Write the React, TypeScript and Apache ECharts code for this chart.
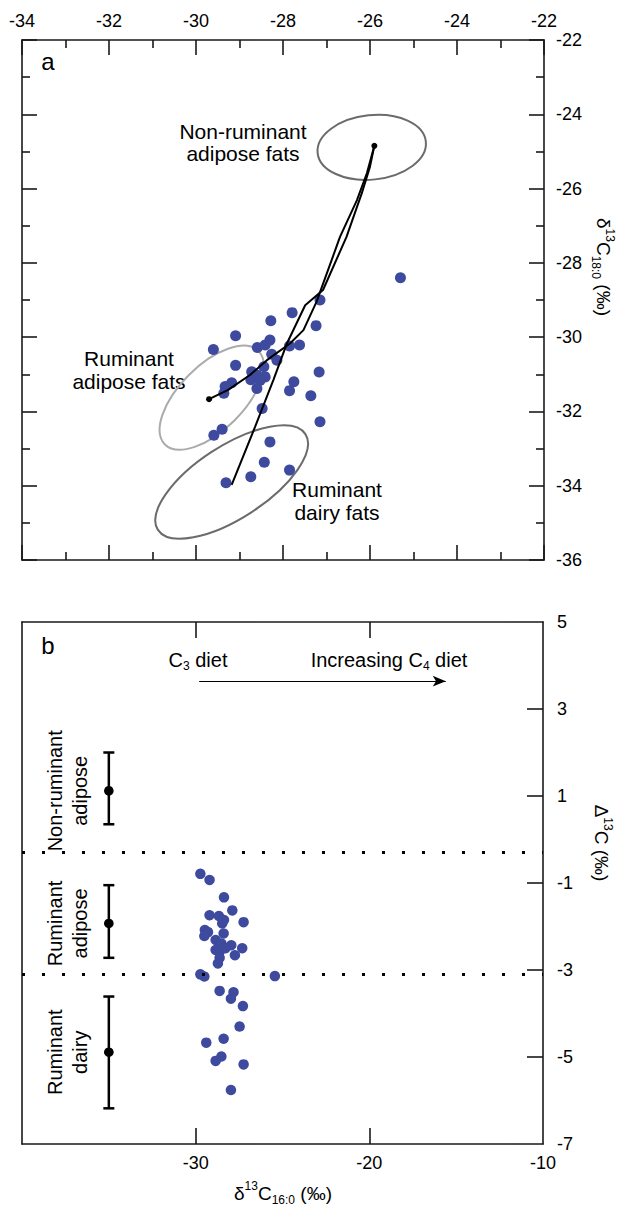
import React, { useEffect, useRef } from 'react';
import * as echarts from 'echarts';

const FONT = '"Liberation Sans", Arial, Helvetica, sans-serif';
const DOT_COLOR = '#3d4a9e';
const INK = '#1a1a1a';

// ---------- Panel a: δ13C16:0 (x) vs δ13C18:0 (y) ----------
const A_X = [
  -27.15, -27.79, -28.28, -29.09, -27.24, -28.3, -28.59, -28.41, -27.85, -27.62,
  -29.6, -28.26, -28.14, -29.09, -28.44, -27.17, -28.72, -28.6, -28.41, -29.18,
  -28.74, -28.53, -27.75, -29.33, -28.6, -27.85, -29.36, -27.36, -28.48, -27.15,
  -29.4, -29.59, -28.3, -28.43, -27.85, -28.74, -29.31, -25.3,
];
const A_Y = [
  -29.0, -29.34, -29.56, -29.96, -29.69, -30.08, -30.28, -30.21, -30.24, -30.21,
  -30.33, -30.46, -30.62, -30.76, -30.8, -30.94, -30.93, -31.02, -31.07, -31.23,
  -31.15, -31.17, -31.2, -31.33, -31.38, -31.44, -31.51, -31.58, -31.92, -32.28,
  -32.48, -32.64, -32.82, -33.37, -33.58, -33.76, -33.92, -28.4,
];

// Reference ellipses (centre, semi-axes in x-axis units, tilt in degrees)
const ELLIPSE_NAMES = ['Non-ruminant adipose fats', 'Ruminant adipose fats', 'Ruminant dairy fats'];
const ELLIPSE_CX = [-25.96, -29.64, -29.18];
const ELLIPSE_CY = [-24.89, -31.63, -33.9];
const ELLIPSE_RX = [1.25, 1.52, 2.02];
const ELLIPSE_RY = [0.74, 0.74, 0.83];
const ELLIPSE_TILT = [6, 45, 33];
const ELLIPSE_STROKES = ['#6b6b6b', '#ababab', '#6b6b6b'];

// Mixing curves
const MIX1_X = [-29.7, -29.26, -28.76, -28.37, -27.84, -27.53, -27.23, -26.88, -26.69, -26.3, -26.07, -25.9];
const MIX1_Y = [-31.67, -31.42, -31.02, -30.62, -30.17, -29.81, -29.05, -27.92, -27.3, -26.31, -25.58, -24.85];
const MIX2_X = [-29.18, -28.64, -28.22, -27.91, -27.49, -27.08, -26.54, -26.19, -26.0, -25.9];
const MIX2_Y = [-33.98, -32.41, -31.15, -30.17, -29.14, -28.73, -27.3, -26.13, -25.41, -24.85];

// Panel a axes
const A_X_MIN = -34, A_X_MAX = -22, A_X_STEP = 2;
const A_Y_MIN = -36, A_Y_MAX = -22, A_Y_STEP = 2;

// ---------- Panel b: δ13C16:0 (x) vs Δ13C (y) ----------
const B_X = [
  -29.73, -29.2, -28.37, -27.89, -29.2, -28.66, -28.37, -27.24, -28.47, -29.47,
  -29.29, -29.5, -28.39, -28.85, -28.52, -27.95, -28.85, -28.62, -28.28, -27.32,
  -27.74, -28.62, -28.72, -29.73, -29.5, -25.44, -28.62, -27.82, -27.97, -27.28,
  -27.47, -28.39, -29.39, -28.52, -28.85, -27.24, -27.97,
];
const B_Y = [
  -0.79, -0.93, -1.33, -1.63, -1.74, -1.76, -1.85, -1.9, -1.93, -2.08,
  -2.13, -2.22, -2.16, -2.31, -2.39, -2.43, -2.54, -2.58, -2.5, -2.5,
  -2.66, -2.72, -2.85, -3.1, -3.15, -3.14, -3.48, -3.51, -3.66, -3.83,
  -4.3, -4.58, -4.67, -4.99, -5.09, -5.17, -5.76,
];

const CATEGORIES = ['Non-ruminant\nadipose', 'Ruminant\nadipose', 'Ruminant\ndairy'];
const REF_X = -35;
const REF_HIGH = [2.0, -1.05, -3.61];
const REF_MID = [1.12, -1.93, -4.89];
const REF_LOW = [0.35, -2.72, -6.18];
const CATEGORY_LABEL_X = -37.4;
const BOUNDARIES = [-0.3, -3.1];

const DIET_ARROW_X = [-29.8, -15.6];
const DIET_ARROW_Y = 3.64;

const B_X_MIN = -40, B_X_MAX = -10, B_X_STEP = 10;
const B_X_LABELS = [-30, -20, -10];
const B_X_TICKS = [-30, -20];
const B_Y_MIN = -7, B_Y_MAX = 5;
const B_Y_LABELS = [-7, -5, -3, -1, 1, 3, 5];
const B_Y_TICKS = [-5, -3, -1, 1, 3];

const lineStyle = { color: INK, width: 1.6 };
const tickLabel = { fontSize: 18, color: '#000', fontFamily: FONT };
const richSS = {
  sup: { fontSize: 12, verticalAlign: 'top', lineHeight: 12, fontFamily: FONT, fill: '#000' },
  sub: { fontSize: 12, verticalAlign: 'bottom', lineHeight: 12, fontFamily: FONT, fill: '#000' },
};

function buildOption() {
  const aPts = A_X.map((x, i) => [x, A_Y[i]]);
  const bPts = B_X.map((x, i) => [x, B_Y[i]]);
  const mix1 = MIX1_X.map((x, i) => [x, MIX1_Y[i]]);
  const mix2 = MIX2_X.map((x, i) => [x, MIX2_Y[i]]);
  const ellipses = ELLIPSE_NAMES.map((n, i) => ({
    name: n,
    value: [ELLIPSE_CX[i], ELLIPSE_CY[i], ELLIPSE_RX[i], ELLIPSE_RY[i], ELLIPSE_TILT[i]],
  }));
  const refs = CATEGORIES.map((c, i) => ({ name: c, value: [REF_X, REF_LOW[i], REF_MID[i], REF_HIGH[i]] }));
  const catLabels = CATEGORIES.map((c, i) => ({ name: c, value: [CATEGORY_LABEL_X, REF_MID[i]] }));

  const boxAxis = (extra: any) => ({
    type: 'value',
    splitLine: { show: false },
    minorSplitLine: { show: false },
    axisLine: { show: true, onZero: false, lineStyle },
    ...extra,
  });

  const aTick = { show: true, inside: true, length: 15, lineStyle };
  const aMinor = { show: true, splitNumber: 2, length: 8, lineStyle };

  const xAxis = [
    boxAxis({ gridIndex: 0, position: 'bottom', min: A_X_MIN, max: A_X_MAX, interval: A_X_STEP,
      axisTick: aTick, minorTick: aMinor, axisLabel: { show: false } }),
    boxAxis({ gridIndex: 0, position: 'top', min: A_X_MIN, max: A_X_MAX, interval: A_X_STEP,
      axisTick: aTick, minorTick: aMinor, axisLabel: { show: true, margin: 10, ...tickLabel } }),
    boxAxis({ gridIndex: 1, position: 'bottom', min: B_X_MIN, max: B_X_MAX, interval: B_X_STEP,
      axisTick: { show: true, inside: true, length: 16, lineStyle, customValues: B_X_TICKS },
      axisLabel: { show: true, margin: 10, customValues: B_X_LABELS, ...tickLabel } }),
    boxAxis({ gridIndex: 1, position: 'top', min: B_X_MIN, max: B_X_MAX, interval: B_X_STEP,
      axisTick: { show: true, inside: true, length: 16, lineStyle, customValues: B_X_TICKS },
      axisLabel: { show: false } }),
  ];
  const yAxis = [
    boxAxis({ gridIndex: 0, position: 'left', min: A_Y_MIN, max: A_Y_MAX, interval: A_Y_STEP,
      axisTick: aTick, minorTick: aMinor, axisLabel: { show: false } }),
    boxAxis({ gridIndex: 0, position: 'right', min: A_Y_MIN, max: A_Y_MAX, interval: A_Y_STEP,
      axisTick: aTick, minorTick: aMinor, axisLabel: { show: true, margin: 12, ...tickLabel } }),
    boxAxis({ gridIndex: 1, position: 'left', min: B_Y_MIN, max: B_Y_MAX,
      axisTick: { show: false }, axisLabel: { show: false } }),
    boxAxis({ gridIndex: 1, position: 'right', min: B_Y_MIN, max: B_Y_MAX,
      axisTick: { show: true, inside: true, length: 16, lineStyle, customValues: B_Y_TICKS },
      axisLabel: { show: true, margin: 14, customValues: B_Y_LABELS, ...tickLabel } }),
  ];

  const series: any[] = [
    {
      type: 'custom', name: 'ellipses', xAxisIndex: 0, yAxisIndex: 0, silent: true,
      encode: { x: 0, y: 1 }, data: ellipses,
      renderItem: (params: any, api: any) => {
        const c = api.coord([api.value(0), api.value(1)]);
        const rx = api.size([api.value(2), 0])[0];
        const ry = api.size([api.value(3), 0])[0];
        return {
          type: 'ellipse', x: c[0], y: c[1], rotation: (api.value(4) * Math.PI) / 180,
          shape: { cx: 0, cy: 0, rx, ry },
          style: { fill: 'none', stroke: ELLIPSE_STROKES[params.dataIndex], lineWidth: 2 },
        };
      },
    },
    {
      type: 'scatter', name: 'samples a', xAxisIndex: 0, yAxisIndex: 0, data: aPts,
      symbolSize: 11, itemStyle: { color: DOT_COLOR, opacity: 1 },
    },
    {
      type: 'line', name: 'mixing adipose', xAxisIndex: 0, yAxisIndex: 0, data: mix1,
      symbol: 'none', lineStyle: { color: '#000', width: 2 }, z: 5,
    },
    {
      type: 'line', name: 'mixing dairy', xAxisIndex: 0, yAxisIndex: 0, data: mix2,
      symbol: 'none', lineStyle: { color: '#000', width: 2 }, z: 5,
    },
    {
      type: 'scatter', name: 'ends', xAxisIndex: 0, yAxisIndex: 0, z: 6,
      data: [mix1[0], mix1[mix1.length - 1]], symbolSize: 6, itemStyle: { color: '#000', opacity: 1 },
    },
    {
      type: 'scatter', name: 'samples b', xAxisIndex: 2, yAxisIndex: 2, data: bPts,
      symbolSize: 10.5, itemStyle: { color: DOT_COLOR, opacity: 1 },
      markLine: {
        silent: true, symbol: 'none', animation: false,
        label: { show: false },
        lineStyle: { color: '#000', width: 3, type: [3, 17] },
        data: BOUNDARIES.map((v) => ({ yAxis: v })),
      },
    },
    {
      type: 'custom', name: 'reference ranges', xAxisIndex: 2, yAxisIndex: 2, silent: true,
      encode: { x: 0, y: [1, 2, 3] }, data: refs, z: 5,
      renderItem: (params: any, api: any) => {
        const x = api.value(0);
        const lo = api.coord([x, api.value(1)]);
        const mid = api.coord([x, api.value(2)]);
        const hi = api.coord([x, api.value(3)]);
        const cap = 5.5;
        const st = { stroke: '#000', lineWidth: 2.5 };
        return {
          type: 'group',
          children: [
            { type: 'line', shape: { x1: hi[0], y1: hi[1], x2: lo[0], y2: lo[1] }, style: st },
            { type: 'line', shape: { x1: hi[0] - cap, y1: hi[1], x2: hi[0] + cap, y2: hi[1] }, style: st },
            { type: 'line', shape: { x1: lo[0] - cap, y1: lo[1], x2: lo[0] + cap, y2: lo[1] }, style: st },
            { type: 'circle', shape: { cx: mid[0], cy: mid[1], r: 4.8 }, style: { fill: '#000' } },
          ],
        };
      },
      markLine: {
        silent: true, animation: false, symbol: ['none', 'arrow'], symbolSize: [8, 13],
        label: { show: false },
        lineStyle: { color: '#000', width: 1.2, type: 'solid' },
        data: [[{ coord: [DIET_ARROW_X[0], DIET_ARROW_Y] }, { coord: [DIET_ARROW_X[1], DIET_ARROW_Y] }]],
      },
    },
    {
      type: 'scatter', name: 'category labels', xAxisIndex: 2, yAxisIndex: 2, silent: true,
      data: catLabels, symbolSize: 1, itemStyle: { color: '#fff', opacity: 1 },
      label: {
        show: true, position: 'inside', rotate: 90, opacity: 1,
        textBorderWidth: 0, textBorderColor: 'transparent',
        formatter: (p: any) => CATEGORIES[p.dataIndex],
        fontSize: 20, lineHeight: 25, color: '#000', fontFamily: FONT, align: 'center', verticalAlign: 'middle',
      },
    },
  ];

  const txt = (x: number, y: number, text: string, size: number, lh: number, extra: any = {}) => ({
    type: 'text', x, y, silent: true, ...extra,
    style: {
      text, fontSize: size, lineHeight: lh, fontFamily: FONT, fill: '#000',
      align: 'center', verticalAlign: 'middle', rich: richSS, ...(extra.style || {}),
    },
  });

  const graphic = [
    txt(48, 61, 'a', 24, 26),
    txt(48, 645, 'b', 24, 26),
    txt(243, 142, 'Non-ruminant\nadipose fats', 21, 22),
    txt(129, 370, 'Ruminant\nadipose fats', 21, 23),
    txt(337, 501, 'Ruminant\ndairy fats', 21, 23),
    txt(198, 660, 'C{sub|3} diet', 20, 24),
    txt(389, 660, 'Increasing C{sub|4} diet', 20, 24),
    txt(603, 267, 'δ{sup|13}C{sub|18:0} (‰)', 19, 26, { rotation: -Math.PI / 2 }),
    txt(601, 843, 'Δ{sup|13}C (‰)', 19, 26, { rotation: -Math.PI / 2 }),
    txt(283, 1193, 'δ{sup|13}C{sub|16:0} (‰)', 19, 26),
  ];

  return {
    animation: false,
    backgroundColor: '#fff',
    grid: [
      { left: 22, top: 40, width: 522, height: 520, containLabel: false },
      { left: 22, top: 622, width: 521, height: 522, containLabel: false },
    ],
    xAxis,
    yAxis,
    series,
    graphic,
  };
}

export default function App() {
  const ref = useRef<HTMLDivElement>(null);
  useEffect(() => {
    if (!ref.current) return;
    const chart = echarts.init(ref.current, undefined, { renderer: 'svg' });
    chart.setOption(buildOption() as any);
    return () => chart.dispose();
  }, []);
  return (
    <div
      ref={ref}
      style={{ position: 'absolute', left: 0, top: 0, width: 620, height: 1207, background: '#fff' }}
    />
  );
}
